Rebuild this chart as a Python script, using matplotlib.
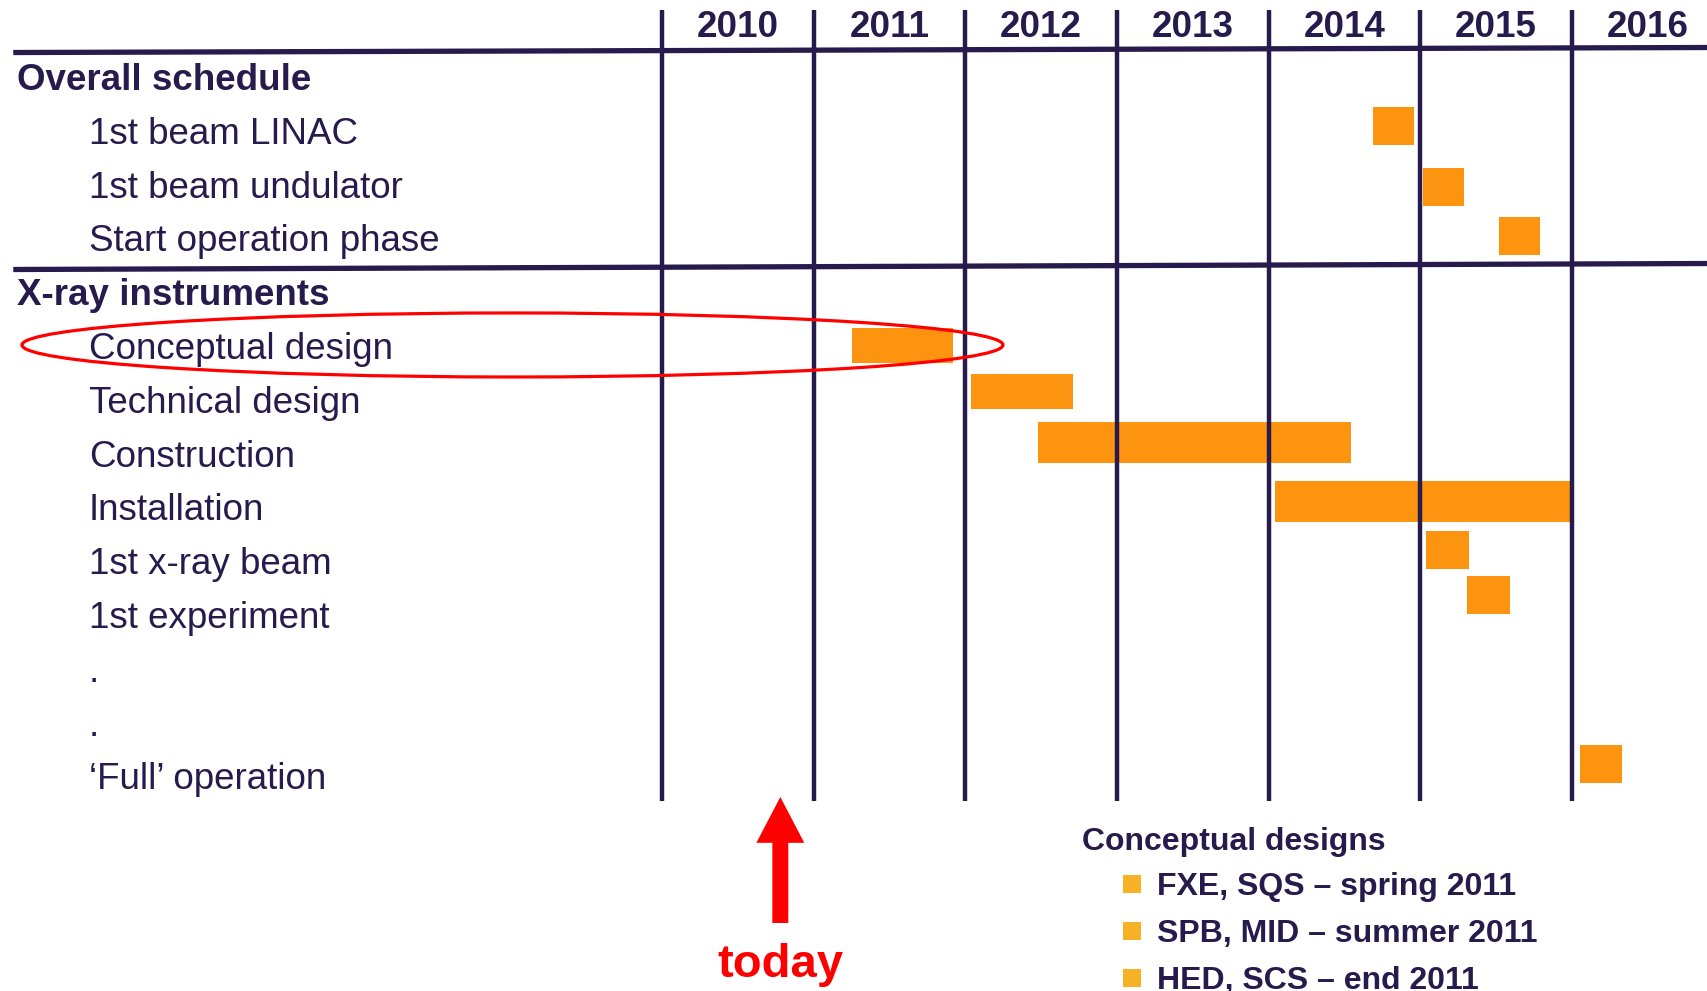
import matplotlib as mpl
mpl.use('Agg')
import matplotlib.pyplot as plt
from matplotlib.patches import Ellipse

plt.rcParams['font.family'] = ['Liberation Sans', 'DejaVu Sans']

# Row labels (row index = position from the top)
labels = ['Overall schedule', '1st beam LINAC', '1st beam undulator',
          'Start operation phase', 'X-ray instruments', 'Conceptual design',
          'Technical design', 'Construction', 'Installation', '1st x-ray beam',
          '1st experiment', '.', '.', '\u2018Full\u2019 operation']
headers = [0, 4]

years = [2010, 2011, 2012, 2013, 2014, 2015, 2016]

# Gantt bars: lane (in rows), start (year), duration (years), bar height (rows)
bar_lane = [0.91, 2.05, 2.96, 4.99, 5.85, 6.79, 7.89, 8.79, 9.63, 12.77]
bar_start = [2014.69, 2015.02, 2015.52, 2011.25, 2012.04, 2012.48, 2014.04,
             2015.04, 2015.31, 2016.05]
bar_length = [0.27, 0.27, 0.27, 0.67, 0.67, 2.06, 1.95, 0.28, 0.28, 0.28]
bar_height = [0.71, 0.71, 0.71, 0.65, 0.65, 0.76, 0.76, 0.71, 0.71, 0.71]

today = 2010.78

legend_title = 'Conceptual designs'
legend_items = ['FXE, SQS \u2013 spring 2011', 'SPB, MID \u2013 summer 2011',
                'HED, SCS \u2013 end 2011']

navy = '#271a4c'
orange = '#fc940f'

fig = plt.figure(figsize=(17.07, 9.91), dpi=100)
ax = fig.add_axes([0, 0, 1, 1])
ax.set_xlim(2005.635, 2016.890)
ax.set_ylim(16.989, -1.431)
ax.axis('off')

# Grid: year separators and the two header rules
for y in years:
    ax.plot([y, y], [-1.245, 13.457], color=navy, lw=3.2, zorder=3,
            solid_capstyle='butt')
    ax.text(y + 0.5, -0.743, str(y), ha='center', va='baseline',
            fontsize=26.5, fontweight='bold', color=navy)
ax.plot([2005.74, 2016.89], [-0.455, -0.548], color=navy, lw=3.8, zorder=3)
ax.plot([2005.74, 2016.89], [3.578, 3.467], color=navy, lw=3.8, zorder=3)

# Row labels
tr = ax.get_yaxis_transform()
for i, lab in enumerate(labels):
    if i in headers:
        ax.text(0.0099, i + 0.242, lab, transform=tr, va='baseline',
                fontsize=26.5, fontweight='bold', color=navy)
    else:
        ax.text(0.0521, i + 0.242, lab, transform=tr, va='baseline',
                fontsize=26.5, color=navy)

# Bars
ax.barh(bar_lane, bar_length, left=bar_start, height=bar_height,
        color=orange, zorder=2)

# Red highlight round "Conceptual design"
ax.add_patch(Ellipse((2009.014, 4.981), 6.468, 1.19, fill=False,
                     edgecolor='red', lw=2.3, zorder=5))

# today arrow
ax.annotate('', xy=(today, 13.383), xytext=(today, 15.725),
            arrowprops=dict(facecolor='red', edgecolor='none', width=11.5,
                            headwidth=34.5, headlength=33, shrink=0))
ax.text(today, 16.729, 'today', ha='center', va='baseline', fontsize=34,
        fontweight='bold', color='red')

# Legend block
ax.text(2012.769, 14.368, legend_title, va='baseline', fontsize=23,
        fontweight='bold', color=navy)
for k, item in enumerate(legend_items):
    yb = 15.204 + 0.874 * k
    ax.plot(2013.096, yb - 0.2, marker='s', ms=13.5, color='#f7b127',
            markeredgewidth=0)
    ax.text(2013.264, yb, item, va='baseline', fontsize=23,
            fontweight='bold', color=navy)

plt.savefig('out.png', dpi=100)
plt.close('all')
